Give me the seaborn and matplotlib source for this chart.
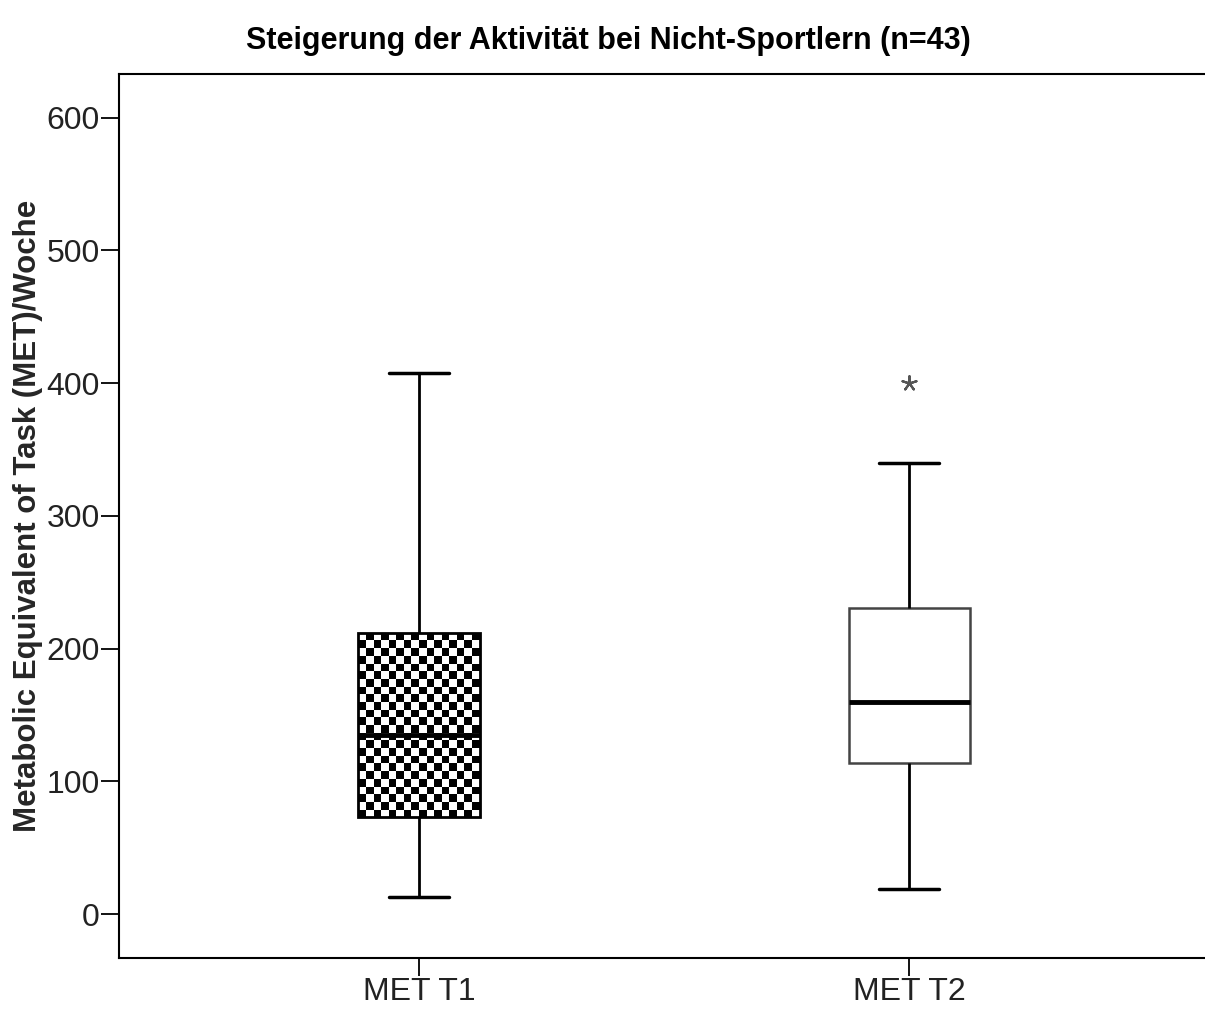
import numpy as np
import pandas as pd
import matplotlib
matplotlib.use("Agg")
import matplotlib.pyplot as plt
import seaborn as sns

# five-number summaries (min, Q1, median, Q3, max)
categories = ["MET T1", "MET T2"]
met_t1 = [13, 73, 135, 212, 408]
met_t2 = [19, 114, 160, 231, 340]
# extreme value drawn as a star
outlier_cat = ["MET T2"]
outlier_val = [400]

title = "Steigerung der Aktivität bei Nicht-Sportlern (n=43)"
ylabel = "Metabolic Equivalent of Task (MET)/Woche"
yticks = [0, 100, 200, 300, 400, 500, 600]

sns.set_theme(style="white")
plt.rcParams["font.family"] = ["Liberation Sans", "DejaVu Sans"]

df = pd.DataFrame({
    "cat": [categories[0]] * len(met_t1) + [categories[1]] * len(met_t2),
    "met": met_t1 + met_t2,
})

fig = plt.figure(figsize=(12.05, 10.13), dpi=100)
ax = fig.add_axes([0.0988, 0.0543, 0.9046, 0.8727])

sns.boxplot(data=df, x="cat", y="met", order=categories, whis=(0, 100),
            width=0.247, color="white", linecolor="black", linewidth=2,
            showfliers=False, ax=ax,
            medianprops=dict(linewidth=3.5, color="black"),
            whiskerprops=dict(linewidth=2, color="black"),
            capprops=dict(linewidth=2.5, color="black"))

sns.scatterplot(x=outlier_cat, y=outlier_val, marker=(5, 2, 0), s=110,
                color="#555555", linewidth=1.6, ax=ax, zorder=5)

ax.set_xlim(-0.612, 1.612)
ax.set_ylim(-33, 633)

# checkerboard fill for first box (SPSS pattern)
boxes = [p for p in ax.patches]
box1 = boxes[0]
ext = box1.get_path().get_extents()
fig.canvas.draw()
p0 = ax.transData.transform((ext.x0, ext.y0))
p1 = ax.transData.transform((ext.x1, ext.y1))
ncols = 16
nrows = int(round(ncols * abs(p1[1] - p0[1]) / abs(p1[0] - p0[0])))
checker = (np.indices((nrows, ncols)).sum(axis=0) % 2).astype(float)
xe = np.linspace(ext.x0, ext.x1, ncols + 1)
ye = np.linspace(ext.y0, ext.y1, nrows + 1)
mesh = ax.pcolormesh(xe, ye, checker, cmap="gray", vmin=0, vmax=1,
                     edgecolors="none", linewidth=0, antialiased=False,
                     zorder=box1.get_zorder() + 0.1)
mesh.set_clip_path(box1)
box1.set_facecolor("none")
box1.set_zorder(box1.get_zorder() + 0.2)
box1.set_edgecolor("black")
if len(boxes) > 1:
    boxes[1].set_edgecolor("#444444")
    boxes[1].set_linewidth(1.8)

# medians above the pattern
for line in ax.lines:
    line.set_zorder(4)

ax.set_xlim(-0.612, 1.612)
ax.set_ylim(-33, 633)
ax.set_yticks(yticks)
ax.set_xlabel("")
ax.set_ylabel(ylabel, fontsize=22.5, fontweight="bold", labelpad=2)
ax.tick_params(axis="both", which="both", direction="out", length=13, width=1.3,
               color="black", labelsize=23, pad=1, left=True, bottom=True,
               labelcolor="#222222")
for side in ["left", "top", "bottom"]:
    ax.spines[side].set_visible(True)
    ax.spines[side].set_color("black")
    ax.spines[side].set_linewidth(1.5)
ax.spines["right"].set_visible(False)
ax.grid(False)

fig.text(0.505, 0.96, title, ha="center", va="center", fontsize=22,
         fontweight="bold", color="black")

fig.savefig("out.png", dpi=100)
